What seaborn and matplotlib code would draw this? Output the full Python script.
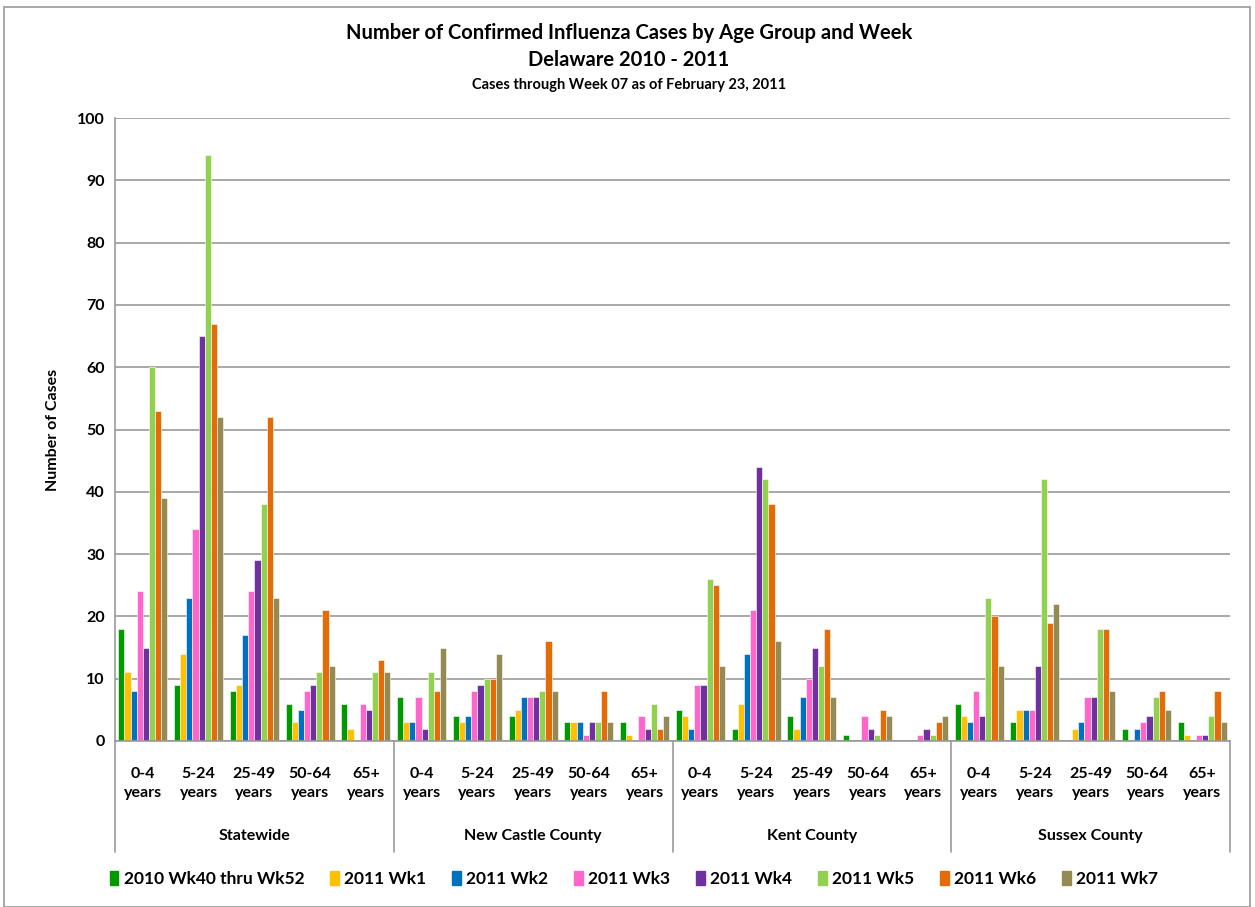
import matplotlib
matplotlib.use("Agg")
import matplotlib.pyplot as plt
import matplotlib.patches as mpatches
import seaborn as sns
import pandas as pd

regions = ["Statewide", "New Castle County", "Kent County", "Sussex County"]
age_groups = ["0-4\nyears", "5-24\nyears", "25-49\nyears", "50-64\nyears", "65+\nyears"]
weeks = ["2010 Wk40 thru Wk52", "2011 Wk1", "2011 Wk2", "2011 Wk3",
         "2011 Wk4", "2011 Wk5", "2011 Wk6", "2011 Wk7"]
colors = ["#009900", "#FFC000", "#0070C0", "#FF66CC", "#7030A0", "#92D050", "#E36C09", "#948A54"]

# values per region: rows = age groups, columns = weeks
statewide = [[18, 11, 8, 24, 15, 60, 53, 39],
             [9, 14, 23, 34, 65, 94, 67, 52],
             [8, 9, 17, 24, 29, 38, 52, 23],
             [6, 3, 5, 8, 9, 11, 21, 12],
             [6, 2, 0, 6, 5, 11, 13, 11]]
new_castle = [[7, 3, 3, 7, 2, 11, 8, 15],
              [4, 3, 4, 8, 9, 10, 10, 14],
              [4, 5, 7, 7, 7, 8, 16, 8],
              [3, 3, 3, 1, 3, 3, 8, 3],
              [3, 1, 0, 4, 2, 6, 2, 4]]
kent = [[5, 4, 2, 9, 9, 26, 25, 12],
        [2, 6, 14, 21, 44, 42, 38, 16],
        [4, 2, 7, 10, 15, 12, 18, 7],
        [1, 0, 0, 4, 2, 1, 5, 4],
        [0, 0, 0, 1, 2, 1, 3, 4]]
sussex = [[6, 4, 3, 8, 4, 23, 20, 12],
          [3, 5, 5, 5, 12, 42, 19, 22],
          [0, 2, 3, 7, 7, 18, 18, 8],
          [2, 0, 2, 3, 4, 7, 8, 5],
          [3, 1, 0, 1, 1, 4, 8, 3]]

all_vals = [statewide, new_castle, kent, sussex]
rows = []
cats = []
for r, reg in enumerate(regions):
    for a, age in enumerate(age_groups):
        cat = f"{reg}|{age}"
        cats.append(cat)
        for w, wk in enumerate(weeks):
            rows.append({"cat": cat, "week": wk, "value": all_vals[r][a][w]})
df = pd.DataFrame(rows)

sns.set_theme(style="white")
fam = ["Lato", "DejaVu Sans"]
plt.rcParams["font.family"] = fam
plt.rcParams["font.weight"] = "bold"
plt.rcParams["text.color"] = "black"
plt.rcParams["xtick.color"] = "black"
plt.rcParams["ytick.color"] = "black"
plt.rcParams["axes.labelcolor"] = "black"

fig = plt.figure(figsize=(12.55, 9.07), dpi=100)
ax = fig.add_axes([115 / 1255, 1 - 741 / 907, (1230 - 115) / 1255, (741 - 118) / 907])

sns.barplot(data=df, x="cat", y="value", hue="week", order=cats, hue_order=weeks,
            palette=colors, saturation=1, width=0.88, edgecolor="white", linewidth=0.4, ax=ax,
            legend=False)

ax.set_ylim(0, 100)
ax.set_xlim(-0.5, len(cats) - 0.5)
ax.set_yticks(range(0, 101, 10))
ax.yaxis.grid(True, color="#999999", linewidth=1.2)
ax.set_axisbelow(True)
for s in ["top", "right"]:
    ax.spines[s].set_visible(False)
for s in ["left", "bottom"]:
    ax.spines[s].set_color("#999999")
    ax.spines[s].set_linewidth(1.2)
ax.tick_params(axis="y", length=4, color="#999999", labelsize=11.5, labelcolor="black")
ax.tick_params(axis="x", length=0, labelsize=11.5, pad=19, labelcolor="black")
for lab in ax.get_yticklabels():
    lab.set_fontweight("bold")
ax.set_xticks(range(len(cats)))
ax.set_xticklabels([c.split("|")[1] for c in cats], fontweight="bold", linespacing=1.45)
ax.set_xlabel("")
ax.set_ylabel("Number of Cases", fontsize=11.5, fontweight="bold", labelpad=12, color="black")

# group separators and labels
trans = ax.get_xaxis_transform()
for b in [-0.5, 4.5, 9.5, 14.5, 19.5]:
    ax.plot([b, b], [0, -(852 - 741) / (741 - 118)], transform=trans, color="#999999",
            linewidth=1.2, clip_on=False)
for r, reg in enumerate(regions):
    ax.text(r * 5 + 2, -(836 - 741) / (741 - 118), reg, transform=trans, ha="center",
            va="center", fontsize=11.5, fontweight="bold")

# titles
tx = 629 / 1255
fig.text(tx, 1 - 33 / 907, "Number of Confirmed Influenza Cases by Age Group and Week",
         ha="center", va="center", fontsize=14.5, fontweight="bold")
fig.text(tx, 1 - 60 / 907, "Delaware 2010 - 2011",
         ha="center", va="center", fontsize=14.5, fontweight="bold")
fig.text(tx, 1 - 85 / 907, "Cases through Week 07 as of February 23, 2011",
         ha="center", va="center", fontsize=10.5, fontweight="bold")

# legend
handles = [mpatches.Patch(color=c, label=w) for c, w in zip(colors, weeks)]
fig.legend(handles=handles, loc="center", bbox_to_anchor=(634 / 1255, 1 - 879 / 907), ncol=8,
           frameon=False, handlelength=0.5, handleheight=0.9, handletextpad=0.3,
           columnspacing=1.5, prop={"weight": "bold", "size": 12.5, "family": fam})

# outer border
fig.patches.append(mpatches.Rectangle((4 / 1255, 0), 1246 / 1255, 1 - 7 / 907, transform=fig.transFigure,
                                      fill=False, edgecolor="#999999", linewidth=1.2))

fig.savefig("out.png", dpi=100)
